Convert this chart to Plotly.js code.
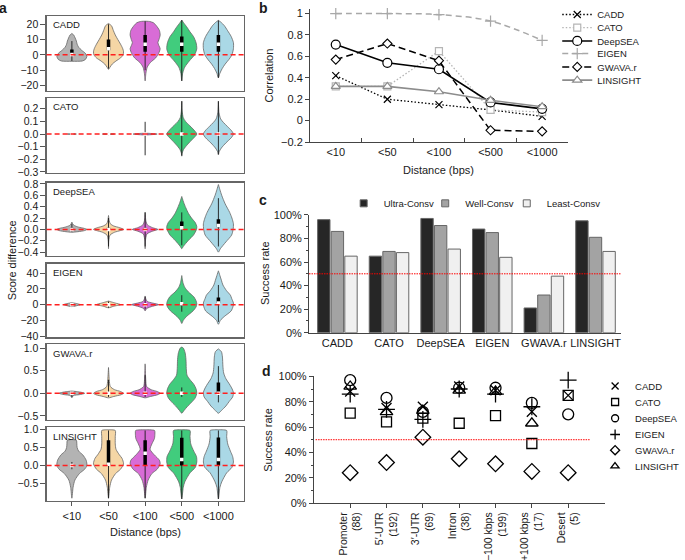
<!DOCTYPE html>
<html><head><meta charset="utf-8">
<script src="https://cdn.plot.ly/plotly-3.0.1.min.js"></script>
<style>body{margin:0;background:#fff}#chart{width:685px;height:560px}</style>
</head><body><div id="chart"></div>
<script>
// ---------------- DATA ----------------
const distanceCats = ['<10','<50','<100','<500','<1000'];
const scoreModels = ['CADD','CATO','DeepSEA','EIGEN','GWAVA.r','LINSIGHT'];

// Panel a: violin outlines, [score, relative half-width]
const caddProfiles = [
 [[-4.2,0],[-4,0.7],[-3,0.9],[-1,1.0],[1,0.9],[3,0.65],[5,0.45],[7,0.35],[9,0.3],[11,0.22],[13,0.12],[14,0]],
 [[-9.5,0],[-8,0.1],[-6,0.25],[-4,0.5],[-2,0.8],[0,0.97],[2,1.0],[4,0.95],[7,0.8],[10,0.62],[13,0.45],[16,0.32],[19,0.2],[20.5,0]],
 [[-17,0],[-12,0.05],[-8,0.14],[-5,0.35],[-2,0.7],[1,0.9],[4,1.0],[6,0.92],[8,0.85],[10,0.92],[13,1.0],[16,0.95],[19,0.75],[21,0.55],[21.8,0.3],[22,0]],
 [[-17,0],[-12,0.06],[-8,0.2],[-4,0.5],[0,0.85],[4,1.0],[8,0.95],[12,0.78],[15,0.55],[18,0.35],[21,0.12],[22.7,0]],
 [[-15,0],[-12,0.1],[-9,0.25],[-6,0.45],[-3,0.7],[0,0.9],[4,1.0],[8,1.0],[12,0.85],[16,0.6],[19,0.4],[21.5,0.15],[22.5,0]]
];
const caddBoxes = [[-4,0,0.3,3.5,9],[-9,3,4,10,20],[-10,2,7,13,22],[-17,2,7,12,22.7],[-15,2,7,13,22.5]];

const catoProfiles = [
 [[-0.004,0],[0,0.3],[0.004,0]],
 [[-0.004,0],[0,0.4],[0.004,0]],
 [[-0.007,0],[-0.003,0.6],[0,0.8],[0.003,0.6],[0.007,0]],
 [[-0.175,0],[-0.15,0.03],[-0.12,0.13],[-0.08,0.4],[-0.04,0.72],[0,1.0],[0.04,0.75],[0.07,0.5],[0.1,0.25],[0.13,0.1],[0.18,0.03],[0.26,0]],
 [[-0.165,0],[-0.14,0.05],[-0.11,0.2],[-0.07,0.5],[-0.03,0.85],[0,1.0],[0.03,0.85],[0.06,0.6],[0.09,0.35],[0.12,0.15],[0.17,0.04],[0.26,0]]
];
const catoBoxes = [[-0.005,0,0,0,0.005],[-0.01,0,0,0,0.01],[-0.168,0,0,0,0.097],[-0.17,-0.003,0,0.003,0.26],[-0.16,-0.003,0,0.003,0.26]];

const deepseaProfiles = [
 [[-0.05,0],[-0.04,0.4],[-0.02,0.85],[0,1.0],[0.02,0.8],[0.04,0.45],[0.07,0.15],[0.1,0.05],[0.13,0]],
 [[-0.34,0],[-0.2,0.02],[-0.1,0.1],[-0.05,0.4],[-0.02,0.8],[0,1.0],[0.03,0.75],[0.06,0.35],[0.1,0.12],[0.15,0.05],[0.245,0]],
 [[-0.34,0],[-0.2,0.02],[-0.08,0.12],[-0.03,0.5],[0,0.85],[0.03,0.5],[0.08,0.15],[0.15,0.05],[0.3,0]],
 [[-0.34,0],[-0.3,0.1],[-0.25,0.25],[-0.19,0.45],[-0.1,0.78],[0,0.98],[0.05,1.0],[0.12,0.9],[0.2,0.65],[0.28,0.45],[0.38,0.27],[0.48,0.12],[0.58,0]],
 [[-0.4,0],[-0.34,0.13],[-0.22,0.5],[-0.1,0.88],[0,0.98],[0.1,1.0],[0.2,0.9],[0.3,0.75],[0.45,0.45],[0.6,0.22],[0.7,0.1],[0.79,0]]
];
const deepseaBoxes = [[-0.04,-0.01,0,0.03,0.1],[-0.3,-0.01,0,0.03,0.2],[-0.3,-0.01,0,0.03,0.3],[-0.28,0.03,0.03,0.14,0.3],[-0.3,0.04,0.07,0.18,0.55]];

const eigenProfiles = [
 [[-2.5,0],[-1,0.4],[0,0.55],[1,0.4],[2.5,0]],
 [[-4,0],[-2,0.35],[0,0.8],[2,0.45],[4.5,0]],
 [[-8,0],[-5,0.1],[-2,0.5],[0,0.9],[2,0.5],[4,0.15],[7,0.05],[11,0]],
 [[-24,0],[-20,0.1],[-15,0.32],[-8,0.75],[-3,0.95],[1,1.0],[5,0.95],[10,0.8],[16,0.45],[22,0.2],[28,0.08],[37,0]],
 [[-25,0],[-20,0.13],[-15,0.4],[-8,0.85],[-2,0.98],[2,1.0],[8,0.88],[12,0.8],[18,0.53],[25,0.3],[31,0.2],[37,0.1],[43,0]]
];
const eigenBoxes = [[-2,-0.5,0,0.5,2],[-4,0,0,1,4],[-6,0,0,2,10],[-9,-1,1,3,12],[-22,2,2,9,25]];

const gwavaProfiles = [
 [[-0.1,0],[-0.05,0.1],[-0.03,0.5],[0,0.85],[0.03,0.5],[0.05,0]],
 [[-0.1,0],[-0.07,0.35],[-0.03,0.85],[0,1.0],[0.04,0.8],[0.08,0.4],[0.15,0.12],[0.3,0.05],[0.57,0]],
 [[-0.1,0],[-0.07,0.35],[-0.03,0.85],[0,1.0],[0.04,0.8],[0.08,0.4],[0.15,0.1],[0.3,0.04],[0.65,0]],
 [[-0.44,0],[-0.38,0.15],[-0.3,0.35],[-0.2,0.65],[-0.1,0.9],[0,1.0],[0.1,0.95],[0.2,0.8],[0.3,0.55],[0.4,0.35],[0.55,0.3],[0.75,0.28],[0.9,0.22],[1.0,0.1],[1.02,0]],
 [[-0.44,0],[-0.38,0.2],[-0.28,0.5],[-0.18,0.72],[-0.08,0.95],[0.02,1.0],[0.12,0.88],[0.22,0.7],[0.32,0.5],[0.45,0.35],[0.6,0.3],[0.8,0.27],[0.92,0.2],[0.98,0]]
];
const gwavaBoxes = [[-0.08,0,0,0.02,0.04],[-0.08,0,0,0.02,0.3],[-0.08,0,0,0.02,0.4],[-0.08,-0.02,0,0.03,0.13],[-0.2,0,0,0.24,0.6]];

const linsightProfiles = [
 [[-0.9,0],[-0.6,0.08],[-0.4,0.2],[-0.22,0.5],[-0.1,0.85],[0,1.0],[0.15,0.95],[0.3,0.72],[0.4,0.45],[0.5,0.35],[0.6,0.33],[0.7,0.3],[0.72,0]],
 [[-0.9,0],[-0.6,0.08],[-0.4,0.2],[-0.22,0.47],[-0.1,0.8],[0.05,1.0],[0.2,0.9],[0.3,0.72],[0.45,0.5],[0.6,0.45],[0.8,0.45],[0.97,0.45],[0.99,0]],
 [[-0.9,0],[-0.6,0.08],[-0.4,0.2],[-0.22,0.45],[-0.1,0.8],[0.05,1.0],[0.15,0.95],[0.3,0.6],[0.45,0.33],[0.6,0.45],[0.75,0.62],[0.9,0.65],[0.97,0.63],[0.99,0]],
 [[-0.92,0],[-0.6,0.1],[-0.45,0.2],[-0.2,0.55],[-0.05,0.9],[0.1,1.0],[0.25,0.98],[0.4,0.8],[0.6,0.6],[0.8,0.55],[0.97,0.55],[0.99,0]],
 [[-0.92,0],[-0.6,0.1],[-0.45,0.22],[-0.2,0.55],[-0.05,0.9],[0.1,1.0],[0.25,0.95],[0.4,0.8],[0.6,0.62],[0.8,0.55],[0.97,0.55],[0.99,0]]
];
const linsightBoxes = [[-0.1,-0.02,0,0.03,0.1],[-0.9,0.02,0.04,0.7,0.97],[-0.9,0,0.34,0.7,0.97],[-0.92,0,0.17,0.77,0.97],[-0.92,0,0.17,0.78,0.97]];

// Panel b: correlation by distance
const corrCADD     = [0.42, 0.20, 0.15, 0.10, 0.04];
const corrCATO     = [0.32, 0.32, 0.65, 0.10, 0.08];
const corrDeepSEA  = [0.71, 0.54, 0.48, 0.17, 0.11];
const corrEIGEN    = [1.00, 1.00, 0.99, 0.93, 0.75];
const corrGWAVA    = [0.57, 0.72, 0.56, -0.09, -0.10];
const corrLINSIGHT = [0.32, 0.32, 0.27, 0.19, 0.13];

// Panel c: success rate by conservation
const consvGroups = ['Ultra-Consv','Well-Consv','Least-Consv'];
const ultraConsv = [96, 65, 97, 88, 21, 95];
const wellConsv  = [86, 69, 91, 85, 32, 81];
const leastConsv = [65, 68, 71, 64, 48, 69];

// Panel d: success rate by region
const regionCats = ['Promoter<br>(88)','5\u2032-UTR<br>(192)','3\u2032-UTR<br>(69)','Intron<br>(38)','\u2212100 kbps<br>(199)','+100 kbps<br>(17)','Desert<br>(5)'];
const succCADD     = [88, 75, 76, 92, 89, 72, 85];
const succCATO     = [71, 64, 67, 63, 69, 47, 85];
const succDeepSEA  = [97, 83, 72, 91, 91, 79, 70];
const succEIGEN    = [86, 74, 66, 90, 86, 76, 97];
const succGWAVA    = [24, 32, 52, 35, 31, 25, 24];
const succLINSIGHT = [92, 72, 73, 89, 88, 63, null];

const pctTicks = [0, 20, 40, 60, 80, 100];
const pctLabels = ['0%', '20%', '40%', '60%', '80%', '100%'];

// ---------------- STYLE / LAYOUT ----------------
const W = 685, H = 560;
const fx = p => p / W, fy = p => 1 - p / H;
const dom = (top, bot) => [fy(bot), fy(top)];
const FONT = 'Liberation Sans, Arial, Helvetica, sans-serif';
const violinFill = ['#b3b3b3','#f5d6a5','#d86cd6','#41cc7d','#aad8e6'];
const HALF = 0.41;

const aPanels = [
  {prof: caddProfiles, box: caddBoxes, top: 15, bot: 90, range: [-23.5, 25.4], tv: [-20,-10,0,10,20], fmt: ''},
  {prof: catoProfiles, box: catoBoxes, top: 97, bot: 172, range: [-0.306, 0.287], tv: [-0.3,-0.2,-0.1,0,0.1,0.2], fmt: '.1f'},
  {prof: deepseaProfiles, box: deepseaBoxes, top: 182, bot: 255, range: [-0.46, 0.823], tv: [-0.4,-0.2,0,0.2,0.4,0.6,0.8], fmt: '.1f'},
  {prof: eigenProfiles, box: eigenBoxes, top: 263, bot: 337, range: [-41.7, 52.3], tv: [-40,-20,0,20,40], fmt: ''},
  {prof: gwavaProfiles, box: gwavaBoxes, top: 344, bot: 420, range: [-0.595, 1.08], tv: [-0.5,0,0.5,1.0], fmt: '.1f'},
  {prof: linsightProfiles, box: linsightBoxes, top: 427, bot: 501, range: [-0.98, 1.06], tv: [-0.5,0,0.5,1.0], fmt: '.1f'}
];

const traces = [];
const layout = {
  width: W, height: H, margin: {l: 0, r: 0, t: 0, b: 0},
  paper_bgcolor: '#fff', plot_bgcolor: 'rgba(0,0,0,0)',
  font: {family: FONT, size: 10.5, color: '#1a1a1a'},
  showlegend: true, shapes: [], annotations: []
};
const aX = [fx(48), fx(251)];

aPanels.forEach((p, k) => {
  const n = k + 1, xa = 'x' + n, ya = 'y' + n;
  p.prof.forEach((prof, i) => {
    const ys = prof.map(d => d[0]), ws = prof.map(d => d[1]);
    const xr = ws.map(w => i + w * HALF);
    const xl = ws.map(w => i - w * HALF).reverse();
    traces.push({type: 'scatter', mode: 'lines', xaxis: xa, yaxis: ya,
      x: xr.concat(xl), y: ys.concat(ys.slice().reverse()),
      fill: 'toself', fillcolor: violinFill[i],
      line: {color: '#666', width: 0.8, shape: 'spline', smoothing: 0.7},
      showlegend: false, hoverinfo: 'skip'});
  });
  p.box.forEach((b, i) => {
    traces.push({type: 'scatter', mode: 'lines', xaxis: xa, yaxis: ya, x: [i, i], y: [b[0], b[4]],
      line: {color: '#1a1a1a', width: 0.9}, showlegend: false, hoverinfo: 'skip'});
    traces.push({type: 'scatter', mode: 'lines', xaxis: xa, yaxis: ya, x: [i, i], y: [b[1], b[3]],
      line: {color: '#000', width: 3.5}, showlegend: false, hoverinfo: 'skip'});
    traces.push({type: 'scatter', mode: 'markers', xaxis: xa, yaxis: ya, x: [i], y: [b[2]],
      marker: {symbol: 'square', size: 3.5, color: '#fff'}, showlegend: false, hoverinfo: 'skip'});
  });
  layout['xaxis' + n] = {domain: aX, anchor: ya, range: [-0.69, 4.69], tickvals: [0,1,2,3,4], ticktext: distanceCats,
    showticklabels: n === 6, ticks: n === 6 ? 'outside' : '', ticklen: 4, tickcolor: '#555',
    showline: true, mirror: true, linecolor: '#666', linewidth: 1.2, showgrid: false, zeroline: false,
    tickfont: {size: 11}};
  layout['yaxis' + n] = {domain: dom(p.top, p.bot), anchor: xa, range: p.range, tickvals: p.tv, tickformat: p.fmt,
    ticks: 'outside', ticklen: 5, tickcolor: '#555', showline: true, mirror: true, linecolor: '#666', linewidth: 1.2,
    showgrid: false, zeroline: false, tickfont: {size: 10.5}};
  layout.shapes.push({type: 'line', xref: xa + ' domain', yref: ya, x0: 0, x1: 1, y0: 0, y1: 0,
    line: {color: '#ff1f1f', width: 1.5, dash: '5px,3px'}});
  layout.annotations.push({xref: xa + ' domain', yref: ya + ' domain', x: 0.02, y: 1 - 9 / (p.bot - p.top),
    xanchor: 'left', yanchor: 'middle', text: scoreModels[k], showarrow: false, font: {size: 9.5}});
});

// Panel b
const bSeries = [
  {name: 'CADD', y: corrCADD, line: {color: '#000', width: 1.3, dash: '1.5px,2px'}, marker: {symbol: 'x-thin-open', size: 7, color: '#000', line: {color: '#000', width: 1.2}}},
  {name: 'CATO', y: corrCATO, line: {color: '#b5b5b5', width: 1.3, dash: '1.5px,2px'}, marker: {symbol: 'square', size: 7, color: '#fff', line: {color: '#b5b5b5', width: 1.2}}},
  {name: 'DeepSEA', y: corrDeepSEA, line: {color: '#000', width: 1.6}, marker: {symbol: 'circle', size: 9, color: '#fff', line: {color: '#000', width: 1.2}}},
  {name: 'EIGEN', y: corrEIGEN, line: {color: '#a8a8a8', width: 1.5, dash: '6px,4px', shape: 'spline'}, marker: {symbol: 'cross-thin-open', size: 8, color: '#a8a8a8', line: {color: '#a8a8a8', width: 1.2}}},
  {name: 'GWAVA.r', y: corrGWAVA, line: {color: '#000', width: 1.5, dash: '7px,4px'}, marker: {symbol: 'diamond', size: 7, color: '#fff', line: {color: '#000', width: 1.1}}},
  {name: 'LINSIGHT', y: corrLINSIGHT, line: {color: '#8c8c8c', width: 1.6}, marker: {symbol: 'triangle-up', size: 8, color: '#fff', line: {color: '#8c8c8c', width: 1.2}}}
];
const bLegendY = [13.3, 26.7, 40, 52.7, 66, 79.3];
bSeries.forEach((s, i) => {
  const lg = i === 0 ? 'legend' : 'legend' + (i + 1);
  traces.push({type: 'scatter', mode: 'lines+markers', xaxis: 'x7', yaxis: 'y7', x: distanceCats, y: s.y,
    name: s.name, line: s.line, marker: s.marker, legend: lg, cliponaxis: false});
  layout[lg] = {x: fx(574), y: fy(bLegendY[i]), xanchor: 'left', yanchor: 'middle', bgcolor: 'rgba(0,0,0,0)',
    font: {size: 9.5}, itemwidth: 30, tracegroupgap: 0};
});
layout.xaxis7 = {domain: [fx(319.3), fx(585)], anchor: 'y7', type: 'category', range: [-0.5, 4.5],
  ticks: 'inside', tickson: 'boundaries', ticklen: 4, tickcolor: '#444', showline: true, linecolor: '#444', linewidth: 1,
  showgrid: false, zeroline: false, tickfont: {size: 11}};
layout.yaxis7 = {domain: dom(8.3, 141.3), anchor: 'x7', range: [-0.2, 1.04], tickvals: [-0.2,0,0.2,0.4,0.6,0.8,1],
  ticks: 'outside', ticklen: 4, tickcolor: '#444', showline: true, linecolor: '#444', linewidth: 1,
  showgrid: false, zeroline: false, tickfont: {size: 11}};

// Panel c
const cFill = ['#262626', '#a3a3a3', '#f0f0f0'];
const cVals = [ultraConsv, wellConsv, leastConsv];
const cLegX = [354, 438, 522];
cVals.forEach((v, i) => {
  traces.push({type: 'bar', xaxis: 'x8', yaxis: 'y8', x: scoreModels, y: v, name: consvGroups[i],
    marker: {color: cFill[i], line: {color: '#666', width: 1}}, showlegend: false, hoverinfo: 'skip'});
});
cVals.forEach((v, i) => {
  const lg = 'legend' + (7 + i);
  traces.push({type: 'scatter', mode: 'markers', xaxis: 'x8', yaxis: 'y8', x: [null], y: [null], name: consvGroups[i],
    marker: {symbol: 'square', size: 7, color: cFill[i], line: {color: '#666', width: 1}}, legend: lg, showlegend: true});
  layout[lg] = {x: fx(cLegX[i]), y: fy(202.7), xanchor: 'left', yanchor: 'middle', bgcolor: 'rgba(0,0,0,0)',
    font: {size: 9.5}, itemwidth: 30};
});
layout.barmode = 'group'; layout.bargap = 0.21; layout.bargroupgap = 0.09;
layout.xaxis8 = {domain: [fx(318.3), fx(640)], anchor: 'y8', type: 'category', range: [-0.55, 5.5],
  ticks: '', showline: true, linecolor: '#444', linewidth: 1, showgrid: false, zeroline: false, tickfont: {size: 11}};
layout.yaxis8 = {domain: dom(214.3, 332.3), anchor: 'x8', range: [0, 100], tickvals: pctTicks, ticktext: pctLabels,
  ticks: 'outside', ticklen: 4, tickcolor: '#444', showline: true, linecolor: '#444', linewidth: 1,
  minor: {ticks: 'outside', dtick: 10, ticklen: 2, tickcolor: '#444'},
  showgrid: false, zeroline: false, tickfont: {size: 11}};
layout.shapes.push({type: 'line', xref: 'x8 domain', yref: 'y8', x0: 0, x1: 1, y0: 50, y1: 50,
  line: {color: '#ff0000', width: 1, dash: '1.5px,1px'}});

// Panel d
const dSeries = [
  {name: 'CADD', y: succCADD, marker: {symbol: 'x-thin-open', size: 10, color: '#000', line: {color: '#000', width: 1.3}}},
  {name: 'CATO', y: succCATO, marker: {symbol: 'square-open', size: 10, color: '#000', line: {color: '#000', width: 1.3}}},
  {name: 'DeepSEA', y: succDeepSEA, marker: {symbol: 'circle-open', size: 11, color: '#000', line: {color: '#000', width: 1.3}}},
  {name: 'EIGEN', y: succEIGEN, marker: {symbol: 'cross-thin-open', size: 12, color: '#000', line: {color: '#000', width: 1.3}}},
  {name: 'GWAVA.r', y: succGWAVA, marker: {symbol: 'diamond-open', size: 12, color: '#000', line: {color: '#000', width: 1.3}}},
  {name: 'LINSIGHT', y: succLINSIGHT, marker: {symbol: 'triangle-up-open', size: 11, color: '#000', line: {color: '#000', width: 1.3}}}
];
const dLegendY = [385.7, 401.7, 418, 434.3, 450, 466];
dSeries.forEach((s, i) => {
  const lg = 'legend' + (10 + i);
  traces.push({type: 'scatter', mode: 'markers', xaxis: 'x9', yaxis: 'y9', x: regionCats, y: s.y, name: s.name,
    marker: s.marker, showlegend: false, cliponaxis: false});
  const lm = JSON.parse(JSON.stringify(s.marker)); lm.size = 7;
  traces.push({type: 'scatter', mode: 'markers', xaxis: 'x9', yaxis: 'y9', x: [null], y: [null], name: s.name,
    marker: lm, legend: lg, showlegend: true});
  layout[lg] = {x: fx(613), y: fy(dLegendY[i]), xanchor: 'left', yanchor: 'middle', bgcolor: 'rgba(0,0,0,0)',
    font: {size: 9.5}, itemwidth: 30};
});
layout.xaxis9 = {domain: [fx(323.3), fx(622.7)], anchor: 'y9', type: 'category', range: [-1, 7],
  ticks: 'outside', ticklen: 4, tickcolor: '#444', tickangle: -90, showline: true, linecolor: '#444', linewidth: 1,
  showgrid: false, zeroline: false, tickfont: {size: 10.5}};
layout.yaxis9 = {domain: dom(376, 503), anchor: 'x9', range: [0, 100], tickvals: pctTicks, ticktext: pctLabels,
  ticks: 'outside', ticklen: 4, tickcolor: '#444', showline: true, linecolor: '#444', linewidth: 1,
  minor: {ticks: 'outside', dtick: 10, ticklen: 2, tickcolor: '#444'},
  showgrid: false, zeroline: false, tickfont: {size: 11}};
layout.shapes.push({type: 'line', xref: 'x9 domain', yref: 'y9', x0: 0.006, x1: 0.95, y0: 50, y1: 50,
  line: {color: '#ff0000', width: 1, dash: '1.5px,1px'}});

// Text: panel letters and axis titles
const txt = (t, x, y, o) => layout.annotations.push(Object.assign({xref: 'paper', yref: 'paper', x: fx(x), y: fy(y),
  text: t, showarrow: false, xanchor: 'center', yanchor: 'middle'}, o || {}));
txt('<b>a</b>', 3.5, 7, {font: {size: 14}});
txt('<b>b</b>', 271, 7, {font: {size: 14}});
txt('<b>c</b>', 271, 199, {font: {size: 14}});
txt('<b>d</b>', 275, 370.5, {font: {size: 14}});
txt('Score difference', 12, 260, {textangle: -90, font: {size: 11}});
txt('Distance (bps)', 150, 531.7, {font: {size: 11}});
txt('Correlation', 276.7, 75, {textangle: -90, font: {size: 11}});
txt('Distance (bps)', 452, 169, {font: {size: 11}});
txt('Success rate', 272.5, 273, {textangle: -90, font: {size: 11}});
txt('Success rate', 276.7, 440, {textangle: -90, font: {size: 11}});

Plotly.newPlot('chart', traces, layout, {staticPlot: true, displayModeBar: false});
</script></body></html>
